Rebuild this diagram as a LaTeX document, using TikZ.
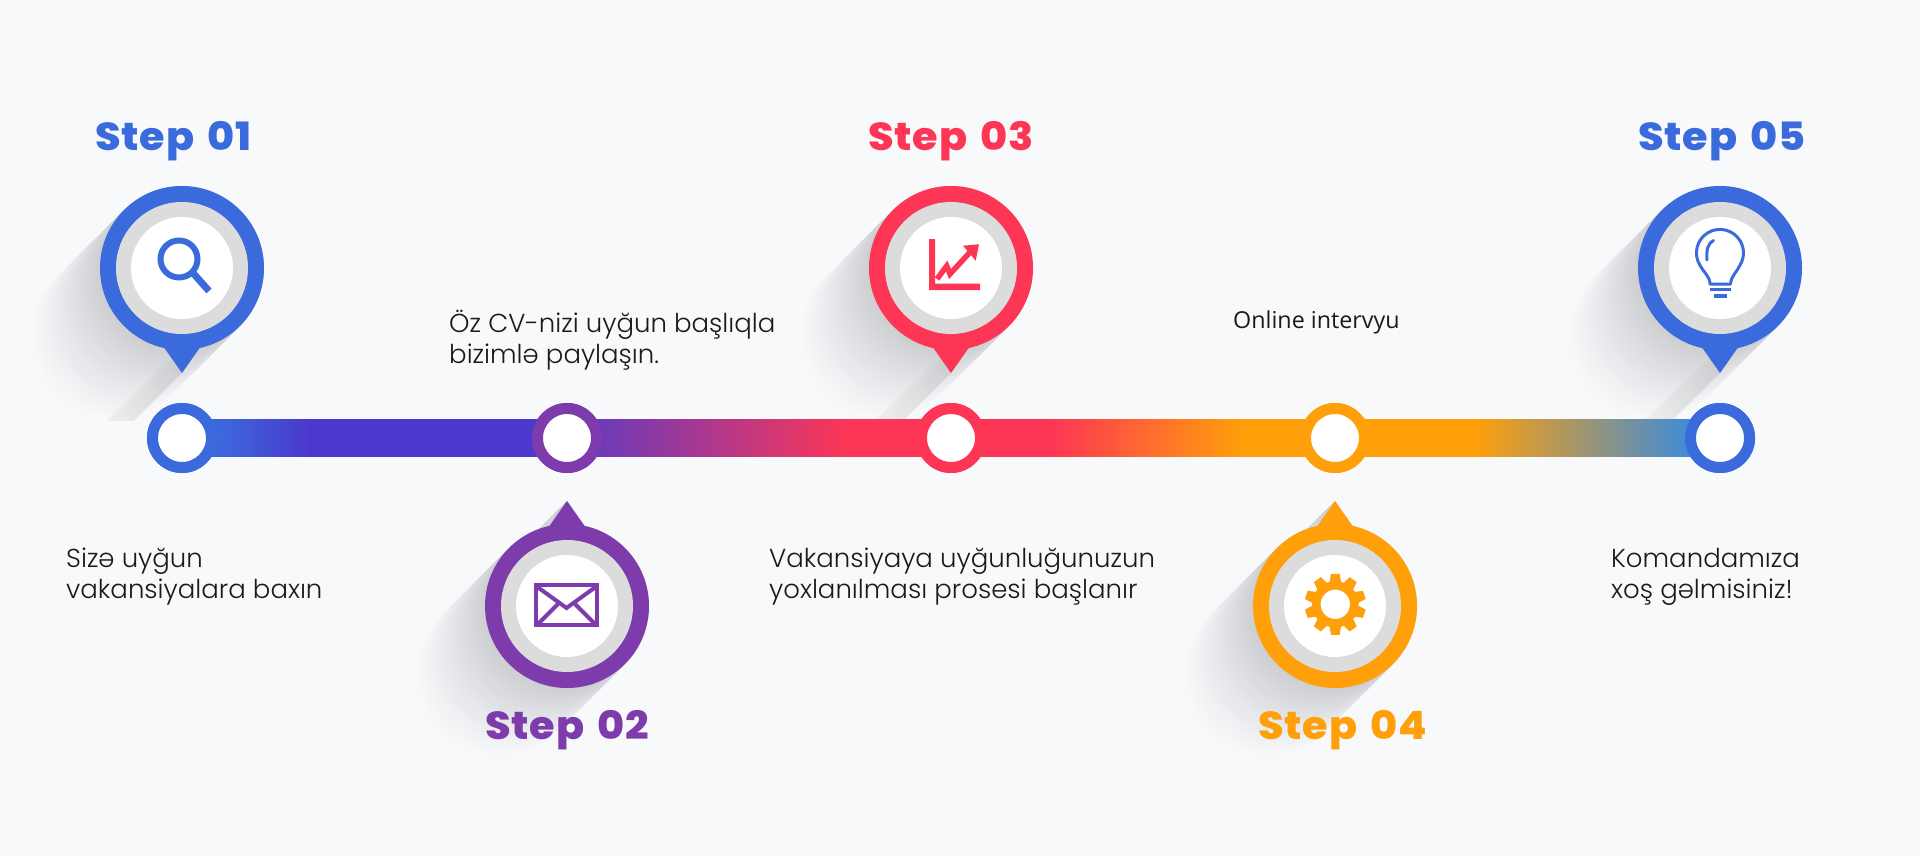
\documentclass[tikz,border=0pt]{standalone}
\usepackage{fontspec}
\usetikzlibrary{calc}
\newfontfamily\headfont{Poppins ExtraBold}[FakeStretch=1.06, LetterSpace=2, WordSpace=1.5]
\newfontfamily\bodyfont{Poppins Light}
\newfontfamily\plainfont{Open Sans}
\definecolor{pagebg}{HTML}{F8F9FB}
\definecolor{stepblue}{HTML}{3B6ADD}
\definecolor{steppurple}{HTML}{7D3BAC}
\definecolor{stepred}{HTML}{FE3655}
\definecolor{steporange}{HTML}{FF9F0A}
\definecolor{ringgrey}{HTML}{DCDCDC}
\definecolor{shadowgrey}{HTML}{CDCED1}
\definecolor{trackindigo}{HTML}{4B39CD}
\definecolor{trackviolet}{HTML}{6E3AB8}
\definecolor{trackend}{HTML}{3F8CD8}
\definecolor{bodyink}{HTML}{1A1A1A}
\pgfdeclarehorizontalshading{trackfade}{100bp}{%
  color(0bp)=(stepblue); color(26.07bp)=(stepblue);%
  color(29.16bp)=(trackindigo); color(37.45bp)=(trackindigo);%
  color(38.59bp)=(trackviolet); color(46.72bp)=(stepred);%
  color(53.25bp)=(stepred); color(59.49bp)=(steporange);%
  color(67.03bp)=(steporange); color(74.02bp)=(trackend);%
  color(100bp)=(trackend)}
\tikzset{x=1pt, y=-1pt,
    pinrim/.style = {circle, inner sep=0, minimum size=164pt},
    pinmid/.style = {circle, inner sep=0, minimum size=132pt, fill=ringgrey},
    pinface/.style = {circle, inner sep=0, minimum size=102pt, fill=white},
    stopring/.style = {circle, inner sep=0, minimum size=59pt, line width=11pt, fill=white},
    headtext/.style = {anchor=base west, inner sep=0, font=\headfont\fontsize{39}{39}\selectfont},
    bodytext/.style = {anchor=base west, inner sep=0, align=left, text=bodyink,
        font=\bodyfont\fontsize{26}{30.5}\selectfont},
    iconline/.style = {line width=#1, miter limit=10}}

\begin{document}
\begin{tikzpicture}
    \fill[pagebg] (0,0) rectangle (1920,856);

    % long shadows
    \foreach \cx/\cy/\tipdir/\cliptop/\clipbot in {182/268/1/0/420, 951/268/1/0/420, 1720/268/1/0/420,
            567/606/-1/440/856, 1335/606/-1/440/856} {
        \begin{scope}
            \clip (0,\cliptop) rectangle (1920,\clipbot);
            \foreach \d in {70,68,...,0} {
                \pgfmathsetmacro{\pct}{100*(1-\d/72)^1.2}
                \pgfmathsetmacro{\tippct}{100*(1-\d/95)^1.3}
                \fill[shadowgrey!\pct!pagebg] (\cx-\d,\cy+\d) circle (82);
                \fill[shadowgrey!\tippct!pagebg] (\cx-\d-10,\cy+\d+\tipdir*95) -- (\cx-\d,\cy+\d+\tipdir*105)
                    -- (\cx-\d+19,\cy+\d+\tipdir*78) -- (\cx-\d,\cy+\d+\tipdir*70) -- cycle;
            }
        \end{scope}
    }

    % track and stops
    \node[stopring, draw=stepblue] (stop1) at (182,438) {};
    \node[stopring, draw=steppurple] (stop2) at (567,438) {};
    \node[stopring, draw=stepred] (stop3) at (951,438) {};
    \node[stopring, draw=steporange] (stop4) at (1335,438) {};
    \node[stopring, draw=stepblue] (stop5) at (1720,438) {};
    \shade[shading=trackfade] ($(stop1.center)+(0,-18.5)$) rectangle ($(stop5.center)+(0,18.5)$);
    \foreach \n/\col in {1/stepblue, 2/steppurple, 3/stepred, 4/steporange, 5/stepblue} {
        \node[stopring, draw=\col] at (stop\n.center) {};
    }

    % pins
    \foreach \n/\cx/\cy/\tipdir/\col in {1/182/268/1/stepblue, 2/567/606/-1/steppurple, 3/951/268/1/stepred,
            4/1335/606/-1/steporange, 5/1720/268/1/stepblue} {
        \fill[\col] (\cx-19,\cy+\tipdir*78) -- (\cx,\cy+\tipdir*105) -- (\cx+19,\cy+\tipdir*78) -- cycle;
        \node[pinrim, fill=\col] (rim\n) at (\cx,\cy) {};
        \node[pinmid] (mid\n) at (rim\n.center) {};
        \node[pinface] (face\n) at (rim\n.center) {};
    }

    % magnifier
    \draw[stepblue, iconline=6pt] (179,259) circle (18.5);
    \draw[stepblue, iconline=7pt] (193,273) -- (209,291);

    % envelope
    \draw[steppurple, iconline=4pt] (536,585) rectangle (597,624.5);
    \draw[steppurple, iconline=4pt] (536,586) -- (566.5,608) -- (597,586);
    \draw[steppurple, iconline=4pt] (537,625) -- (558,604);
    \draw[steppurple, iconline=4pt] (596,625) -- (575,604);

    % chart
    \fill[stepred] (929,239) -- (935,239) -- (935,283.5) -- (980,283.5) -- (980,290) -- (929,290) -- cycle;
    \draw[stepred, iconline=5.5pt] (937,279) -- (946.7,266) -- (950,274) -- (972,250);
    \fill[stepred] (963,245.7) -- (979,244.3) -- (975.7,260.7) -- cycle;

    % gear
    \begin{scope}[shift={(1335.3,604.3)}]
        \draw[steporange, iconline=8.5pt] (0,0) circle (19);
        \foreach \a in {18,54,...,342} {
            \fill[steporange, rotate=\a] (21,-6) -- (30.5,-4.3) -- (30.5,4.3) -- (21,6) -- cycle;
        }
    \end{scope}

    % bulb
    \draw[stepblue, iconline=3pt, line join=round]
        (1710,284) .. controls (1710,276) and (1703,272) .. (1699.8,265)
        arc (149:391:23.5) .. controls (1737,272) and (1731,276) .. (1730.5,284) -- cycle;
    \draw[stepblue, iconline=3pt, line cap=round] (1707,260) .. controls (1706,250) and (1708,243) .. (1713.5,240.5);
    \draw[stepblue, iconline=3.2pt] (1710,289.5) -- (1731,289.5);
    \draw[stepblue, iconline=3.2pt] (1714,296) -- (1727,296);

    % headings
    \node[headtext, text=stepblue] (head1) at (95,150) {Step 01};
    \node[headtext, text=steppurple] (head2) at (485,739) {Step 02};
    \node[headtext, text=stepred] (head3) at (868,150) {Step 03};
    \node[headtext, text=steporange] (head4) at (1258,739) {Step 04};
    \node[headtext, text=stepblue] (head5) at (1638,150) {Step 05};

    % notes
    \node[bodytext] (note1) at (66,598) {Sizə uyğun\\vakansiyalara baxın};
    \node[bodytext] (note2) at (449,363) {Öz CV-nizi uyğun başlıqla\\bizimlə paylaşın.};
    \node[bodytext] (note3) at (769,598) {Vakansiyaya uyğunluğunuzun\\yoxlanılması prosesi başlanır};
    \node[anchor=base west, inner sep=0, text=bodyink, font=\plainfont\fontsize{23.3}{28}\selectfont]
        (note4) at (1233,328) {Online intervyu};
    \node[bodytext] (note5) at (1611,598) {Komandamıza\\xoş gəlmisiniz!};
\end{tikzpicture}
\end{document}
